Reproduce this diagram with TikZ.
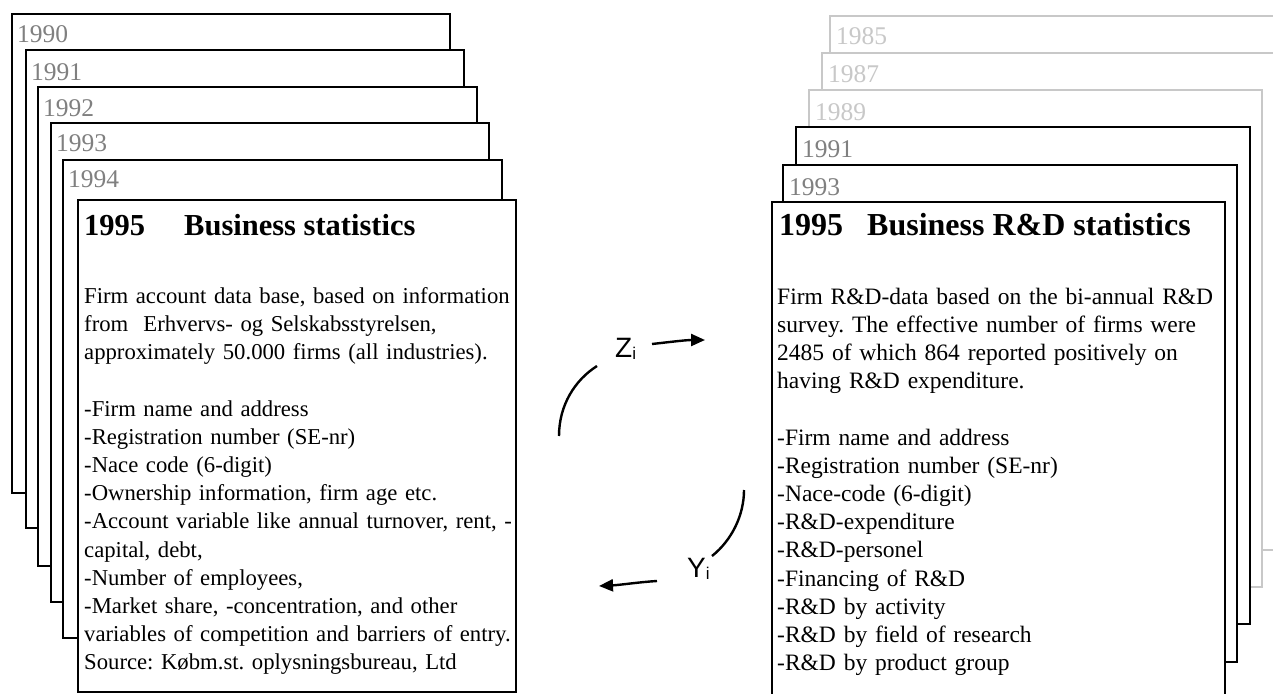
\documentclass[tikz,border=0pt]{standalone}
\usepackage{fontspec}
\setmainfont{Liberation Serif}
\newfontfamily\arialfont{Liberation Sans}
\usetikzlibrary{arrows.meta}
\definecolor{yeargray}{RGB}{128,128,128}
\definecolor{oldgray}{RGB}{200,200,200}
\frenchspacing
\begin{document}
\begin{tikzpicture}[x=1pt,y=-1pt,
  sheet/.style={draw=black, line width=2.6pt, fill=white, anchor=north west, inner sep=0pt, outer sep=0pt},
  oldsheet/.style={sheet, draw=oldgray, line width=2.2pt},
  yearlabel/.style={anchor=base west, inner sep=0pt, text=yeargray, font=\fontsize{25.5}{30}\selectfont},
  oldyear/.style={yearlabel, text=oldgray},
  titletext/.style={anchor=base west, inner sep=0pt, font=\bfseries\fontsize{32}{38}\selectfont},
  ltitletext/.style={titletext, font=\bfseries\fontsize{30.5}{36}\selectfont},
  bodytext/.style={anchor=base west, inner sep=0pt, align=left, text width=470pt, font=\frenchspacing\fontsize{23.5}{28.2}\selectfont},
  lbodytext/.style={bodytext, font=\frenchspacing\fontsize{22.7}{28.2}\selectfont},
  flow/.style={line width=2.4pt},
  flowarrow/.style={line width=2.4pt, -{Triangle[length=14pt,width=12pt]}},
  varlabel/.style={anchor=base west, inner sep=0pt, font=\arialfont\fontsize{28}{30}\selectfont}
]
\useasboundingbox (0,0) rectangle (1273,693);
\clip (0,0) rectangle (1273,693);

% ---------- left stack ----------
\node[sheet, minimum width=438pt, minimum height=479pt] (L1990) at (12,14) {};
\node[yearlabel] (y1990) at (17,43) {1990};
\node[sheet, minimum width=438pt, minimum height=478pt] (L1991) at (26,50) {};
\node[yearlabel] (y1991) at (31,80) {1991};
\node[sheet, minimum width=439pt, minimum height=479pt] (L1992) at (38,87) {};
\node[yearlabel] (y1992) at (43,116) {1992};
\node[sheet, minimum width=438pt, minimum height=479pt] (L1993) at (51,123) {};
\node[yearlabel] (y1993) at (56,151) {1993};
\node[sheet, minimum width=439pt, minimum height=478pt] (L1994) at (63,160) {};
\node[yearlabel] (y1994) at (68,187) {1994};
\node[sheet, minimum width=438pt, minimum height=492pt] (L1995) at (78,200) {};
\node[ltitletext] (lty) at (84,235) {1995};
\node[ltitletext] (ltt) at (184,235) {Business statistics};
\node[lbodytext] (ldesc) at (84,303) {Firm account data base, based on information\\
from~~Erhvervs- og Selskabsstyrelsen,\\
approximately 50.000 firms (all industries).};
\node[lbodytext] (llist) at (84,416) {-Firm name and address\\
-Registration number (SE-nr)\\
-Nace code (6-digit)\\
-Ownership information, firm age etc.\\
-Account variable like annual turnover, rent, -\\
capital, debt,\\
-Number of employees,\\
-Market share, -concentration, and other\\
variables of competition and barriers of entry.\\
Source: Købm.st. oplysningsbureau, Ltd};

% ---------- right stack ----------
\node[oldsheet, minimum width=453pt, minimum height=497pt] (R1985) at (830,16) {};
\node[oldyear] (y1985) at (836,45) {1985};
\node[oldsheet, minimum width=453pt, minimum height=497pt] (R1987) at (822,53) {};
\node[oldyear] (y1987) at (828,82) {1987};
\node[oldsheet, minimum width=453pt, minimum height=497pt] (R1989) at (809,90) {};
\node[oldyear] (y1989) at (815,120) {1989};
\node[sheet, minimum width=454pt, minimum height=497pt] (R1991) at (796,127) {};
\node[yearlabel] (y1991r) at (802,157) {1991};
\node[sheet, minimum width=454pt, minimum height=497pt] (R1993) at (783,165) {};
\node[yearlabel] (y1993r) at (789,195) {1993};
\node[sheet, minimum width=453pt, minimum height=505pt] (R1995) at (772,202) {};
\node[titletext] (rty) at (779,235) {1995};
\node[titletext] (rtt) at (867,235) {Business R\&D statistics};
\node[bodytext] (rdesc) at (777,304) {Firm R\&D-data based on the bi-annual R\&D\\
survey. The effective number of firms were\\
2485 of which 864 reported positively on\\
having R\&D expenditure.};
\node[bodytext] (rlist) at (777,445) {-Firm name and address\\
-Registration number (SE-nr)\\
-Nace-code (6-digit)\\
-R\&D-expenditure\\
-R\&D-personel\\
-Financing of R\&D\\
-R\&D by activity\\
-R\&D by field of research\\
-R\&D by product group};

% ---------- flows ----------
\node[varlabel] (zlab) at (615,357) {Z\raisebox{-2.7pt}{\fontsize{17}{18}\selectfont i}};
\node[varlabel] (ylab) at (687,577) {Y\raisebox{-2.7pt}{\fontsize{17}{18}\selectfont i}};
\coordinate (zs) at (652,344);
\coordinate (ze) at (705,340);
\coordinate (la1) at (597,366);
\coordinate (la2) at (559,436);
\coordinate (ra1) at (744,490);
\coordinate (ra2) at (712,556);
\coordinate (ys) at (657,581);
\coordinate (ye) at (599,586);
\draw[flowarrow] (zs) .. controls (670,342) and (686,340) .. (ze);
\draw[flow] (la1) .. controls (575,380) and (559,405) .. (la2);
\draw[flow] (ra1) .. controls (744,515) and (732,540) .. (ra2);
\draw[flowarrow] (ys) .. controls (640,582) and (620,585) .. (ye);
\end{tikzpicture}
\end{document}
